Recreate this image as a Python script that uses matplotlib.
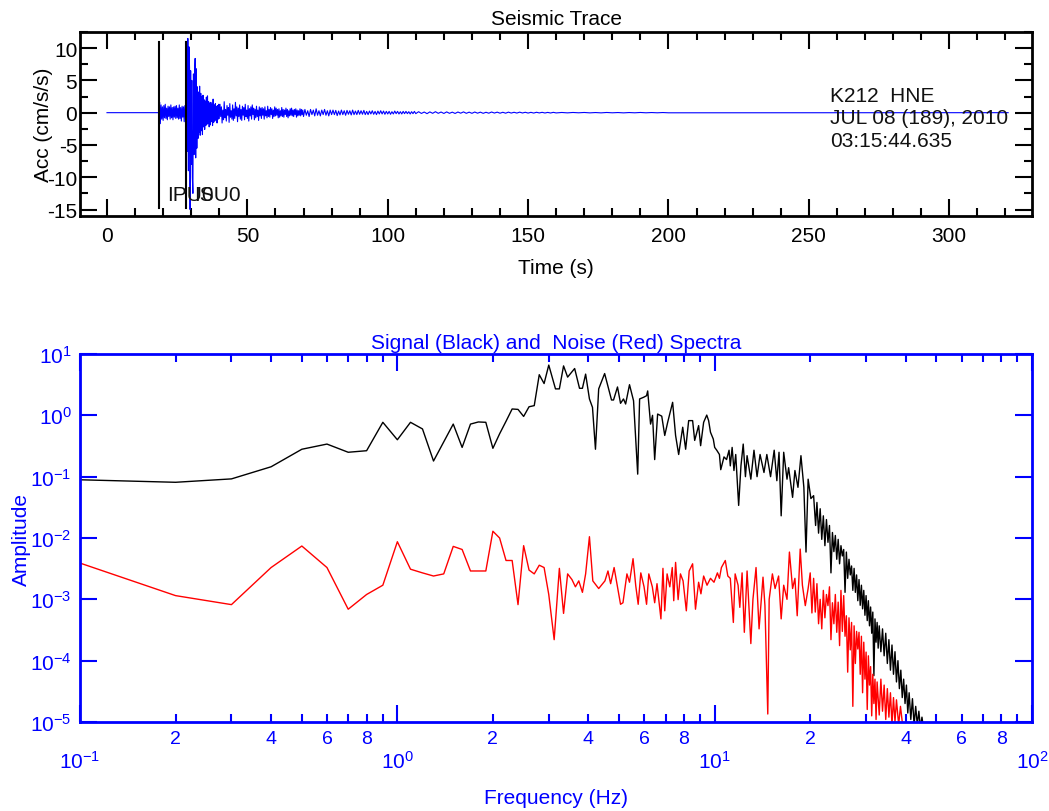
import numpy as np
import matplotlib
matplotlib.use("Agg")
import matplotlib.pyplot as plt
from matplotlib.ticker import MultipleLocator, LogLocator, FuncFormatter, NullLocator, LogFormatterMathtext

plt.rcParams['font.family'] = ['Liberation Sans', 'DejaVu Sans']
plt.rcParams['axes.unicode_minus'] = False
plt.rcParams['mathtext.fontset'] = 'custom'
plt.rcParams['mathtext.rm'] = 'Liberation Sans'
plt.rcParams['mathtext.it'] = 'Liberation Sans:italic'
plt.rcParams['mathtext.bf'] = 'Liberation Sans:bold'
plt.rcParams['mathtext.default'] = 'regular'

# ---- seismic trace (acceleration, cm/s/s), stored as (start time, sample step, samples) ----
quiet_t = [0.0, 18.4]
quiet_acc = [0.0, 0.0]

p_start, p_step = 18.5, 0.25
p_acc = [0.3, 1.6, -1.7, 1.2, -1.0, 0.9, -1.2, 1.1, -0.8, 1.3, -0.9, 0.7, -1.1, 1.0,
         -0.6, 0.9, -1.0, 1.2, -0.8, 0.8, -1.1, 0.9, -0.7, 1.0, -0.9, 1.1, -0.8, 0.7,
         -1.0, 1.2, -0.9, 0.8, -1.3, 1.0, -0.7, 0.9, -1.4, 1.1, -0.8]

s_start, s_step = 28.2, 0.2
s_acc = [-2.0, 4.5, -6.0, 11.5, -9.0, 10.2, 7.0, -15.0, 6.5, -8.0, 5.0, -10.0, -12.5, 6.0,
         -6.5, 5.5, 8.4, -7.0, 6.8, -5.5, 4.0, -4.0, 3.2, -3.0, 4.1, -3.5, 3.0, -2.8,
         2.5, -3.4, 2.7, -2.2, 2.0, -2.6, 1.8, -2.0, 2.4, -1.8, 2.6, -1.6, 1.7, -2.2,
         1.5, -1.9, 1.6, -1.4, 1.3, -2.0, 2.1, -1.5, 1.2, -1.3, 1.4, -1.1, 1.0, -1.6,
         1.1, -1.0, 1.3, -0.9]

coda_start, coda_step = 40.25, 0.25
coda_acc = [1.3, -0.6, 0.9, -1.6, 0.4, -1.1, 1.7, -0.8, 0.5, -1.3, 1.1, -0.4, 0.8, -1.5,
            1.4, -0.7, 0.3, -1.0, 1.2, -1.2, 0.6, -0.9, 1.6, -0.5, 0.9, -1.4, 0.7, -0.6,
            1.2, -1.0,
            0.5, -1.2, 1.0, -0.4, 0.8, -1.1, 1.3, -0.6, 0.4, -0.9, 1.1, -1.3, 0.6, -0.5,
            0.9, -1.0, 1.2, -0.3, 0.7, -1.1, 0.5, -0.8, 1.0, -0.6, 0.4, -1.2, 0.9, -0.5,
            0.7, -0.9,
            0.8, -0.4, 0.6, -1.0, 0.9, -0.5, 0.3, -0.8, 1.0, -0.6, 0.5, -0.7, 0.8, -0.3,
            0.6, -0.9, 0.4, -0.6, 0.9, -0.5, 0.7, -0.4, 0.5, -0.8, 0.6, -0.7, 0.3, -0.5,
            0.8, -0.6,
            0.5, -0.7, 0.4, -0.3, 0.7, -0.6, 0.5, -0.8, 0.3, -0.5, 0.6, -0.4, 0.7, -0.5,
            0.4, -0.6, 0.5, -0.3, 0.6, -0.7, 0.4, -0.5, 0.3, -0.4, 0.6, -0.5, 0.5, -0.3,
            0.4, -0.6]

decay_start, decay_step = 70.5, 0.5
decay_acc = [0.5, -0.4, 0.3, -0.6, 0.5, -0.3, 0.4, -0.5, 0.6, -0.4, 0.3, -0.5, 0.4, -0.3,
             0.5, -0.4, 0.3, -0.5, 0.4, -0.3,
             0.4, -0.3, 0.35, -0.45, 0.25, -0.35, 0.4, -0.3, 0.3, -0.4, 0.35, -0.25, 0.3,
             -0.35, 0.4, -0.3, 0.25, -0.3, 0.35, -0.25,
             0.3, -0.25, 0.35, -0.3, 0.2, -0.3, 0.25, -0.2, 0.3, -0.25, 0.2, -0.3, 0.25,
             -0.2, 0.3, -0.2, 0.25, -0.25, 0.2, -0.2,
             0.2, -0.25, 0.15, -0.2, 0.25, -0.15, 0.2, -0.2, 0.15, -0.2, 0.2, -0.15, 0.2,
             -0.15, 0.15, -0.2, 0.15, -0.15, 0.2, -0.15]

tail_start, tail_step = 111.0, 1.0
tail_acc = [0.15, -0.12, 0.1, -0.15, 0.12, -0.1, 0.15, -0.1, 0.1, -0.12,
            0.12, -0.1, 0.08, -0.12, 0.1, -0.08, 0.12, -0.1, 0.08, -0.1,
            0.1, -0.08, 0.08, -0.1, 0.06, -0.08, 0.1, -0.06, 0.08, -0.08,
            0.06, -0.08, 0.08, -0.06, 0.06, -0.06, 0.08, -0.05, 0.06, -0.06,
            0.05, -0.06, 0.06, -0.04, 0.05, -0.05, 0.04, -0.05, 0.05, -0.04]

late_start, late_step = 162.0, 2.0
late_acc = [0.03, -0.03, 0.03, -0.02, 0.03, -0.03, 0.02, -0.03, 0.03, -0.02, 0.02, -0.03,
            0.02, -0.02, 0.03, -0.02, 0.02, -0.02, 0.02, -0.02]

end_t = [321.0]
end_acc = [0.0]

# phase picks (s) and their labels
pick_times = [18.5, 28.2]
pick_names = ["IPU0", "ISU0"]
station_info = ["K212  HNE", "JUL 08 (189), 2010", "03:15:44.635"]

# ---- amplitude spectra ----
sig_freq = [0.1, 0.2, 0.3, 0.4, 0.5, 0.6, 0.7, 0.8, 0.9, 1.0, 1.1, 1.2, 1.3, 1.4, 1.5,
            1.6, 1.7, 1.8, 1.9, 2.0, 2.1, 2.2, 2.3, 2.4, 2.5, 2.6, 2.7, 2.8, 2.9, 3.0,
            3.15, 3.24, 3.34, 3.44, 3.62, 3.75, 3.83, 3.92, 4.03, 4.12, 4.21, 4.31, 4.50,
            4.73, 4.80, 4.94, 5.05, 5.16, 5.24, 5.39, 5.55, 5.72, 5.80, 5.97, 6.10, 6.15,
            6.28, 6.37, 6.47, 6.61, 6.81, 6.96, 7.11, 7.37, 7.53, 7.70, 7.93, 8.10, 8.28,
            8.52, 8.65, 8.90, 9.03, 9.23, 9.44, 9.57, 9.7, 9.9, 10.0, 10.15, 10.35, 10.45,
            10.7, 10.9, 11.1, 11.2, 11.35, 11.5, 11.65, 11.9, 12.1, 12.3, 12.5, 12.65,
            13.0, 13.3, 13.6, 13.9, 14.3, 14.6, 15.0, 15.4, 15.7, 15.95, 16.2, 16.5, 16.9,
            17.1, 17.6, 17.9, 18.3, 18.7, 19.1, 19.4, 19.7, 20.1, 20.5, 20.8,
            21.0, 21.25, 21.5, 21.75, 22.0, 22.25, 22.5, 22.75, 23.0, 23.25, 23.5, 23.75,
            24.0, 24.25, 24.5, 24.75, 25.0, 25.25, 25.5, 25.75, 26.0, 26.25, 26.5, 26.75,
            27.0, 27.25, 27.5, 27.75, 28.0, 28.25, 28.5, 28.75, 29.0, 29.25, 29.5, 29.75,
            30.0, 30.25, 30.5, 30.75, 31.0, 31.25, 31.5, 31.75, 32.0, 32.25, 32.5, 32.75,
            33.0, 33.4, 33.8, 34.2, 34.6, 35.0, 35.4, 35.8, 36.2, 36.6, 37.0, 37.4, 37.8,
            38.2, 38.6, 39.0, 39.4, 39.8, 40.2, 40.6, 41.0, 41.5, 42.0, 42.5, 43.0, 43.5,
            44.0, 44.5, 45.0, 45.5]
sig_amp = [0.089, 0.081, 0.092, 0.145, 0.28, 0.34, 0.25, 0.265, 0.77, 0.40, 0.77, 0.60,
           0.18, 0.37, 0.72, 0.30, 0.72, 0.78, 0.77, 0.29, 0.50, 0.80, 1.27, 1.25, 0.96,
           1.38, 1.44, 4.6, 3.3, 6.6, 2.7, 2.7, 6.4, 4.2, 5.8, 2.76, 2.76, 4.7, 1.85,
           1.35, 0.28, 2.7, 4.8, 1.78, 1.78, 2.9, 1.57, 1.85, 1.53, 3.16, 1.73, 0.11,
           1.85, 1.97, 2.09, 2.5, 0.72, 1.0, 0.19, 1.05, 0.97, 0.47, 0.77, 1.63, 0.47,
           0.23, 0.64, 0.28, 0.82, 0.82, 0.39, 0.68, 0.32, 0.77, 1.01, 0.82, 0.53, 0.41,
           0.30, 0.27, 0.23, 0.13, 0.21, 0.19, 0.27, 0.15, 0.30, 0.126, 0.23, 0.034,
           0.15, 0.34, 0.10, 0.22, 0.091, 0.27, 0.10, 0.23, 0.117, 0.23, 0.10, 0.27,
           0.086, 0.25, 0.023, 0.25, 0.091, 0.14, 0.046, 0.126, 0.067, 0.22, 0.067,
           0.0059, 0.091, 0.044, 0.049, 0.016,
           0.038, 0.012, 0.03, 0.0095, 0.023, 0.0075, 0.02, 0.0085, 0.016, 0.0027, 0.0123,
           0.006, 0.011, 0.0045, 0.0095, 0.0038, 0.0075, 0.0051, 0.0065, 0.0013, 0.0059,
           0.0022, 0.0045, 0.0025, 0.0035, 0.0014, 0.0032, 0.0013, 0.0025, 0.00095,
           0.0021, 0.0008, 0.0017, 0.0007, 0.0014, 0.00055, 0.00115, 0.00045, 0.00095,
           0.00037, 0.00075, 0.00028, 0.00062, 5.7e-5, 0.00048, 0.0002, 0.00042, 0.00016,
           0.00037, 0.00014, 0.00033, 0.00012, 0.00028, 9e-5, 0.00022, 7e-5, 0.00018,
           6e-5, 0.00014, 4.5e-5, 0.0001, 3.5e-5, 7e-5, 2.5e-5, 5e-5, 2e-5, 4e-5, 1.4e-5,
           3e-5, 1.1e-5, 2.4e-5, 9e-6, 1.8e-5, 9e-6, 1.5e-5, 8e-6, 1.2e-5, 8e-6]

noise_freq = [0.1, 0.2, 0.3, 0.4, 0.5, 0.6, 0.7, 0.8, 0.9, 1.0, 1.1, 1.2, 1.3, 1.4, 1.5,
              1.6, 1.7, 1.8, 1.9, 2.0, 2.1, 2.2, 2.3, 2.4, 2.5, 2.6, 2.7, 2.8, 2.9, 3.0,
              3.12, 3.24, 3.34, 3.44, 3.55, 3.64, 3.73, 3.83, 3.92, 4.03, 4.13, 4.31,
              4.51, 4.61, 4.70, 4.82, 5.05, 5.14, 5.29, 5.39, 5.53, 5.64, 5.74, 5.85,
              5.99, 6.10, 6.20, 6.36, 6.47, 6.58, 6.77, 6.87, 6.96, 7.08, 7.22, 7.35,
              7.43, 7.53, 7.67, 7.80, 7.95, 8.14, 8.31, 8.52, 8.70, 8.90, 9.05, 9.23,
              9.46, 9.70, 9.95, 10.2, 10.35, 10.5, 10.8, 11.0, 11.2, 11.45, 11.6, 11.85,
              12.0, 12.2, 12.4, 12.65, 13.0, 13.2, 13.5, 13.8, 14.2, 14.4, 14.7, 14.85,
              15.2, 15.5, 15.9, 16.2, 16.5, 16.9, 17.2, 17.6, 17.9, 18.2, 18.6, 18.9,
              19.3, 19.7,
              20.0, 20.25, 20.5, 20.75, 21.0, 21.25, 21.5, 21.75, 22.0, 22.25, 22.5, 22.75,
              23.0, 23.25, 23.5, 23.75, 24.0, 24.25, 24.5, 24.75, 25.0, 25.25, 25.5, 25.75,
              26.0, 26.25, 26.5, 26.75, 27.0, 27.25, 27.5, 27.75, 28.0, 28.25, 28.5, 28.75,
              29.0, 29.25, 29.5, 29.75, 30.0, 30.25, 30.5, 30.75, 31.0, 31.25, 31.5, 31.75,
              32.0, 32.25, 32.5, 33.0, 33.4, 33.8, 34.2, 34.6, 35.0, 35.4, 35.8, 36.2,
              36.6, 37.0, 37.4, 38.0, 38.5, 39.2]
noise_amp = [0.0039, 0.00115, 0.00082, 0.0033, 0.0074, 0.0033, 0.00069, 0.0012, 0.0017,
             0.0087, 0.0031, 0.0027, 0.0024, 0.0026, 0.0073, 0.0065, 0.0029, 0.0029,
             0.0029, 0.0129, 0.010, 0.0043, 0.0043, 0.00082, 0.0075, 0.0030, 0.0026,
             0.0036, 0.0033, 0.0012, 0.00022, 0.0032, 0.00059, 0.0026, 0.0021, 0.0016,
             0.0020, 0.0013, 0.0026, 0.0105, 0.0020, 0.0015, 0.0020, 0.0029, 0.0018,
             0.0033, 0.00083, 0.00088, 0.0026, 0.0019, 0.0046, 0.00166, 0.00083, 0.0027,
             0.0016, 0.00083, 0.0026, 0.0016, 0.00088, 0.0018, 0.00048, 0.0032, 0.00065,
             0.0026, 0.0016, 0.0033, 0.00095, 0.0040, 0.00099, 0.0026, 0.0020, 0.00065,
             0.0029, 0.0038, 0.00069, 0.0019, 0.00123, 0.0024, 0.0017, 0.0022, 0.0019,
             0.0027, 0.0022, 0.0033, 0.0043, 0.0024, 0.0022, 0.00042, 0.0026, 0.0017,
             0.00074, 0.0027, 0.00029, 0.0029, 0.00019, 0.0010, 0.0033, 0.00033, 0.0023,
             0.00079, 1.35e-5, 0.0010, 0.0026, 0.0015, 0.0024, 0.00048, 0.0017, 0.0010,
             0.0059, 0.0015, 0.0022, 0.00054, 0.0066, 0.0017, 0.00079, 0.0015,
             0.0027, 0.0006, 0.0022, 0.00062, 0.0018, 0.0004, 0.0010, 0.00033, 0.0014,
             0.0005, 0.0012, 0.00079, 0.0016, 0.00022, 0.00088, 0.0004, 0.0012, 0.00029,
             0.0009, 0.000176, 0.0014, 0.0003, 0.00115, 0.00025, 0.00054, 6.5e-5, 0.0005,
             0.00015, 0.00042, 1.8e-5, 0.00037, 9e-5, 0.0003, 0.000155, 0.00029, 6e-5,
             0.00025, 3.0e-5, 0.0002, 5e-5, 0.000138, 1.6e-5, 0.00012, 4e-5, 8e-5,
             1.26e-5, 6e-5, 2e-5, 5e-5, 1.1e-5, 4.5e-5, 1.3e-5, 5e-5, 1.5e-5, 4e-5,
             1.1e-5, 3.5e-5, 1.2e-5, 3e-5, 9e-6, 2.5e-5, 1e-5, 2.3e-5, 9e-6, 1.8e-5, 8e-6]


def segment(start, step, values):
    return start + step * np.arange(len(values)), np.asarray(values)


segs = [(np.asarray(quiet_t), np.asarray(quiet_acc)),
        segment(p_start, p_step, p_acc),
        segment(s_start, s_step, s_acc),
        segment(coda_start, coda_step, coda_acc),
        segment(decay_start, decay_step, decay_acc),
        segment(tail_start, tail_step, tail_acc),
        segment(late_start, late_step, late_acc),
        (np.asarray(end_t), np.asarray(end_acc))]
trace_t = np.concatenate([s[0] for s in segs])
trace_acc = np.concatenate([s[1] for s in segs])

BLUE = (0, 0, 1)
FS = 15

fig = plt.figure(figsize=(10.49, 8.12), dpi=100)

# ---------------- seismic trace ----------------
ax1 = fig.add_axes([0.0763, 0.7328, 0.9075, 0.2266])
ax1.plot(trace_t, trace_acc, color=BLUE, lw=0.8)
for t, name in zip(pick_times, pick_names):
    ax1.plot([t, t], [-14.7, 10.9], color='black', lw=1.5)
    ax1.text(t + 2.85, -12.7, name, fontsize=FS, va='center', ha='left', color='#111111')
for i, line in enumerate(station_info):
    ax1.text(257.5, 2.7 - 3.5 * i, line, fontsize=FS, va='center', ha='left', color='#111111')

ax1.set_xlim(-9.6, 329.5)
ax1.set_ylim(-16.0, 12.5)
ax1.xaxis.set_major_locator(MultipleLocator(50))
ax1.xaxis.set_minor_locator(MultipleLocator(10))
ax1.yaxis.set_major_locator(MultipleLocator(5))
ax1.yaxis.set_minor_locator(MultipleLocator(2.5))
ax1.tick_params(which='both', direction='in', top=True, right=True, width=1.5,
                labelsize=FS, color='black')
ax1.tick_params(which='major', length=12)
ax1.tick_params(which='minor', length=6)
ax1.tick_params(axis='x', pad=7)
ax1.tick_params(axis='y', pad=2)
for sp in ax1.spines.values():
    sp.set_linewidth(2)
ax1.set_title("Seismic Trace", fontsize=FS, pad=6)
ax1.set_xlabel("Time (s)", fontsize=FS)
ax1.xaxis.set_label_coords(0.5, -0.23)
ax1.set_ylabel("Acc (cm/s/s)", fontsize=FS)
ax1.yaxis.set_label_coords(-0.028, 0.5)

# ---------------- spectra ----------------
ax2 = fig.add_axes([0.0763, 0.1096, 0.9075, 0.4532])
ax2.loglog(sig_freq, sig_amp, color='black', lw=1.0)
ax2.loglog(noise_freq, noise_amp, color=(1, 0, 0), lw=1.0)
ax2.set_xlim(0.1, 100)
ax2.set_ylim(1e-5, 10)

ax2.xaxis.set_major_locator(LogLocator(base=10, numticks=10))
ax2.xaxis.set_minor_locator(LogLocator(base=10, subs=np.arange(2, 10), numticks=20))
ax2.xaxis.set_major_formatter(LogFormatterMathtext())


def minor_label(v, pos):
    m = int(round(v / 10 ** np.floor(np.log10(v) + 1e-9)))
    return str(m) if m in (2, 4, 6, 8) else ""


ax2.xaxis.set_minor_formatter(FuncFormatter(minor_label))
ax2.yaxis.set_major_locator(LogLocator(base=10, numticks=10))
ax2.yaxis.set_minor_locator(NullLocator())
ax2.yaxis.set_major_formatter(LogFormatterMathtext())

ax2.tick_params(which='both', direction='in', top=True, right=True, width=1.5,
                color=BLUE, labelcolor=BLUE, labelsize=15)
ax2.tick_params(axis='x', which='minor', labelsize=14)
ax2.tick_params(which='major', length=12)
ax2.tick_params(which='minor', length=6)
ax2.tick_params(axis='x', which='major', pad=20)
ax2.tick_params(axis='x', which='minor', pad=6)
ax2.tick_params(axis='y', pad=6)
for sp in ax2.spines.values():
    sp.set_linewidth(2)
    sp.set_color(BLUE)
ax2.set_title("Signal (Black) and  Noise (Red) Spectra", fontsize=FS, color=BLUE, pad=4)
ax2.set_xlabel("Frequency (Hz)", fontsize=FS, color=BLUE)
ax2.xaxis.set_label_coords(0.5, -0.178)
ax2.set_ylabel("Amplitude", fontsize=FS, color=BLUE)
ax2.yaxis.set_label_coords(-0.052, 0.5)

fig.savefig("out.png", dpi=100)
